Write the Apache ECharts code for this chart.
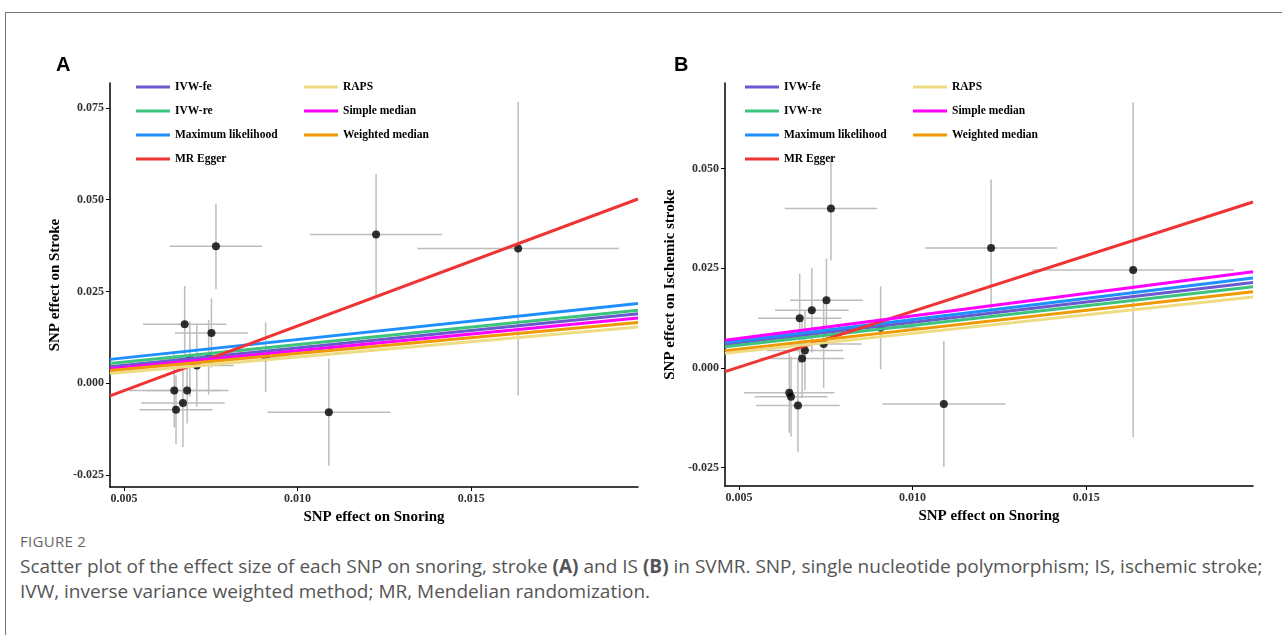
<!DOCTYPE html>
<html>
<head>
<meta charset="utf-8">
<script src="https://cdn.jsdelivr.net/npm/echarts@6/dist/echarts.min.js"></script>
<style>
  body { margin: 0; background: #fff; width: 1282px; height: 635px; overflow: hidden; position: relative; }
  #frame { position: absolute; left: 5px; top: 12px; right: 0; bottom: 0; border-top: 1px solid #777; border-left: 1px solid #777; }
  #chart { position: absolute; left: 0; top: 0; width: 1282px; height: 530px; }
  #label { position: absolute; left: 20px; top: 531px; font-family: "Open Sans", sans-serif; font-size: 15px; letter-spacing: 0.3px; color: #666; }
  #caption { position: absolute; left: 20px; top: 554px; white-space: nowrap; font-family: "Open Sans", sans-serif; font-size: 19px; line-height: 25px; color: #555; }
</style>
</head>
<body>
<div id="frame"></div>
<div id="chart"></div>
<div id="label">FIGURE 2</div>
<div id="caption">Scatter plot of the effect size of each SNP on snoring, stroke <b>(A)</b> and IS <b>(B)</b> in SVMR. SNP, single nucleotide polymorphism; IS, ischemic stroke;<br>IVW, inverse variance weighted method; MR, Mendelian randomization.</div>
<script>
// SNP effects on the exposure (shared by both panels)
const snoringBeta = [0.00645, 0.0065, 0.0067, 0.00675, 0.00682, 0.0069, 0.0071, 0.00744, 0.00752, 0.00765, 0.00908, 0.0109, 0.01226, 0.01635]
const snoringSe = [0.0013, 0.00105, 0.0012, 0.0012, 0.0012, 0.0011, 0.00106, 0.0011, 0.00105, 0.00133, 0.0012, 0.00177, 0.0019, 0.0029]

// outcomes
const strokeBeta = [-0.002, -0.0072, -0.0054, 0.0161, -0.002, 0.0066, 0.0048, 0.0071, 0.0137, 0.0373, 0.0071, -0.0079, 0.0405, 0.0367]
const strokeSe = [0.010, 0.0094, 0.012, 0.0104, 0.009, 0.0102, 0.0112, 0.0102, 0.0094, 0.0116, 0.0095, 0.0146, 0.0165, 0.040]
const isBeta = [-0.0062, -0.0072, -0.0094, 0.0125, 0.0024, 0.0044, 0.0145, 0.006, 0.017, 0.040, 0.0101, -0.009, 0.0301, 0.0246]
const isSe = [0.010, 0.010, 0.0117, 0.0112, 0.010, 0.010, 0.0106, 0.011, 0.0105, 0.013, 0.0104, 0.0158, 0.0172, 0.042]

// MR method fits
const methods = ['IVW-fe', 'IVW-re', 'Maximum likelihood', 'MR Egger', 'RAPS', 'Simple median', 'Weighted median']
const methodColors = ['#6a5acd', '#3cc47c', '#1e8fff', '#f03434', '#eedc82', '#ff00ff', '#ee9a00']
const strokeSlope = [0.95, 0.954, 1.0, 3.53, 0.836, 0.908, 0.86]
const strokeIntercept = [0.0001, 0.001, 0.0019, -0.0197, -0.0012, -0.0002, -0.0005]
const isSlope = [1.018, 0.99, 1.066, 2.80, 0.929, 1.128, 0.97]
const isIntercept = [0.0013, 0.0008, 0.0015, -0.0138, -0.0006, 0.0018, -0.0001]

const xTicks = [0.005, 0.010, 0.015]
const strokeTicks = [-0.025, 0, 0.025, 0.050, 0.075]
const isTicks = [-0.025, 0, 0.025, 0.050]

const xMin = 0.0046, xMax = 0.0198

const chart = echarts.init(document.getElementById('chart'))

const serif = 'Liberation Serif'
const tickLabel = { color: '#333', fontFamily: serif, fontWeight: 'bold', fontSize: 12, formatter: v => v.toFixed(3) }
const axisName = { color: '#000', fontFamily: serif, fontWeight: 'bold', fontSize: 15 }

const makeX = (gridIndex) => ({
  type: 'value', gridIndex, min: xMin, max: xMax,
  name: 'SNP effect on Snoring', nameLocation: 'middle', nameGap: 16, nameTextStyle: axisName,
  axisLine: { onZero: false, lineStyle: { color: '#000', width: 1.5 } },
  axisTick: { show: true, length: 4, customValues: xTicks, lineStyle: { color: '#000' } },
  axisLabel: { ...tickLabel, customValues: xTicks, margin: 6 },
  splitLine: { show: false },
})

const makeY = (gridIndex, min, max, ticks, name) => ({
  type: 'value', gridIndex, min, max,
  name, nameLocation: 'middle', nameGap: 47, nameTextStyle: axisName,
  axisLine: { show: true, onZero: false, lineStyle: { color: '#000', width: 1.5 } },
  axisTick: { show: true, length: 4, customValues: ticks, lineStyle: { color: '#000' } },
  axisLabel: { ...tickLabel, customValues: ticks, margin: 6 },
  splitLine: { show: false },
})

const errorBars = (ys, yse, idx) => ({
  type: 'custom', xAxisIndex: idx, yAxisIndex: idx, silent: true, z: 1,
  data: snoringBeta.map((x, i) => [x, ys[i], snoringSe[i], yse[i]]),
  encode: { x: 0, y: 1 },
  renderItem: (params, api) => {
    const x = api.value(0), y = api.value(1), sx = api.value(2), sy = api.value(3)
    const h0 = api.coord([x - sx, y]), h1 = api.coord([x + sx, y])
    const v0 = api.coord([x, y - sy]), v1 = api.coord([x, y + sy])
    const style = { stroke: '#bdbdbd', lineWidth: 1.5 }
    return {
      type: 'group',
      children: [
        { type: 'line', shape: { x1: h0[0], y1: h0[1], x2: h1[0], y2: h1[1] }, style },
        { type: 'line', shape: { x1: v0[0], y1: v0[1], x2: v1[0], y2: v1[1] }, style },
      ],
    }
  },
})

const points = (ys, idx) => ({
  type: 'scatter', xAxisIndex: idx, yAxisIndex: idx, z: 2, silent: true,
  symbolSize: 8, itemStyle: { color: '#000' },
  data: snoringBeta.map((x, i) => [x, ys[i]]),
})

const fits = (slopes, intercepts, idx) => methods.map((m, i) => ({
  name: m, type: 'line', xAxisIndex: idx, yAxisIndex: idx, z: 3,
  symbol: 'none', silent: true,
  lineStyle: { width: 3, color: methodColors[i] }, itemStyle: { color: methodColors[i] },
  data: [[xMin, intercepts[i] + slopes[i] * xMin], [xMax, intercepts[i] + slopes[i] * xMax]],
}))

const legend = (left) => ({
  data: methods, left, top: 75, orient: 'vertical', height: 100,
  icon: 'rect', itemWidth: 34, itemHeight: 3, itemGap: 10,
  selectedMode: false,
  textStyle: { fontFamily: serif, fontWeight: 'bold', fontSize: 11.5, color: '#000', width: 119, lineHeight: 14 },
})

chart.setOption({
  animation: false,
  title: [
    { text: 'A', left: 51, top: 50, textStyle: { fontFamily: 'Liberation Sans', fontWeight: 'bold', fontSize: 20, color: '#000' } },
    { text: 'B', left: 669, top: 50, textStyle: { fontFamily: 'Liberation Sans', fontWeight: 'bold', fontSize: 20, color: '#000' } },
  ],
  legend: [legend(131), legend(740)],
  grid: [
    { left: 110, top: 83, width: 528, height: 405 },
    { left: 725, top: 83, width: 528, height: 403 },
  ],
  xAxis: [makeX(0), makeX(1)],
  yAxis: [
    makeY(0, -0.0283, 0.0818, strokeTicks, 'SNP effect on Stroke'),
    makeY(1, -0.0296, 0.0715, isTicks, 'SNP effect on Ischemic stroke'),
  ],
  series: [
    errorBars(strokeBeta, strokeSe, 0),
    points(strokeBeta, 0),
    ...fits(strokeSlope, strokeIntercept, 0),
    errorBars(isBeta, isSe, 1),
    points(isBeta, 1),
    ...fits(isSlope, isIntercept, 1),
  ],
})
</script>
</body>
</html>
